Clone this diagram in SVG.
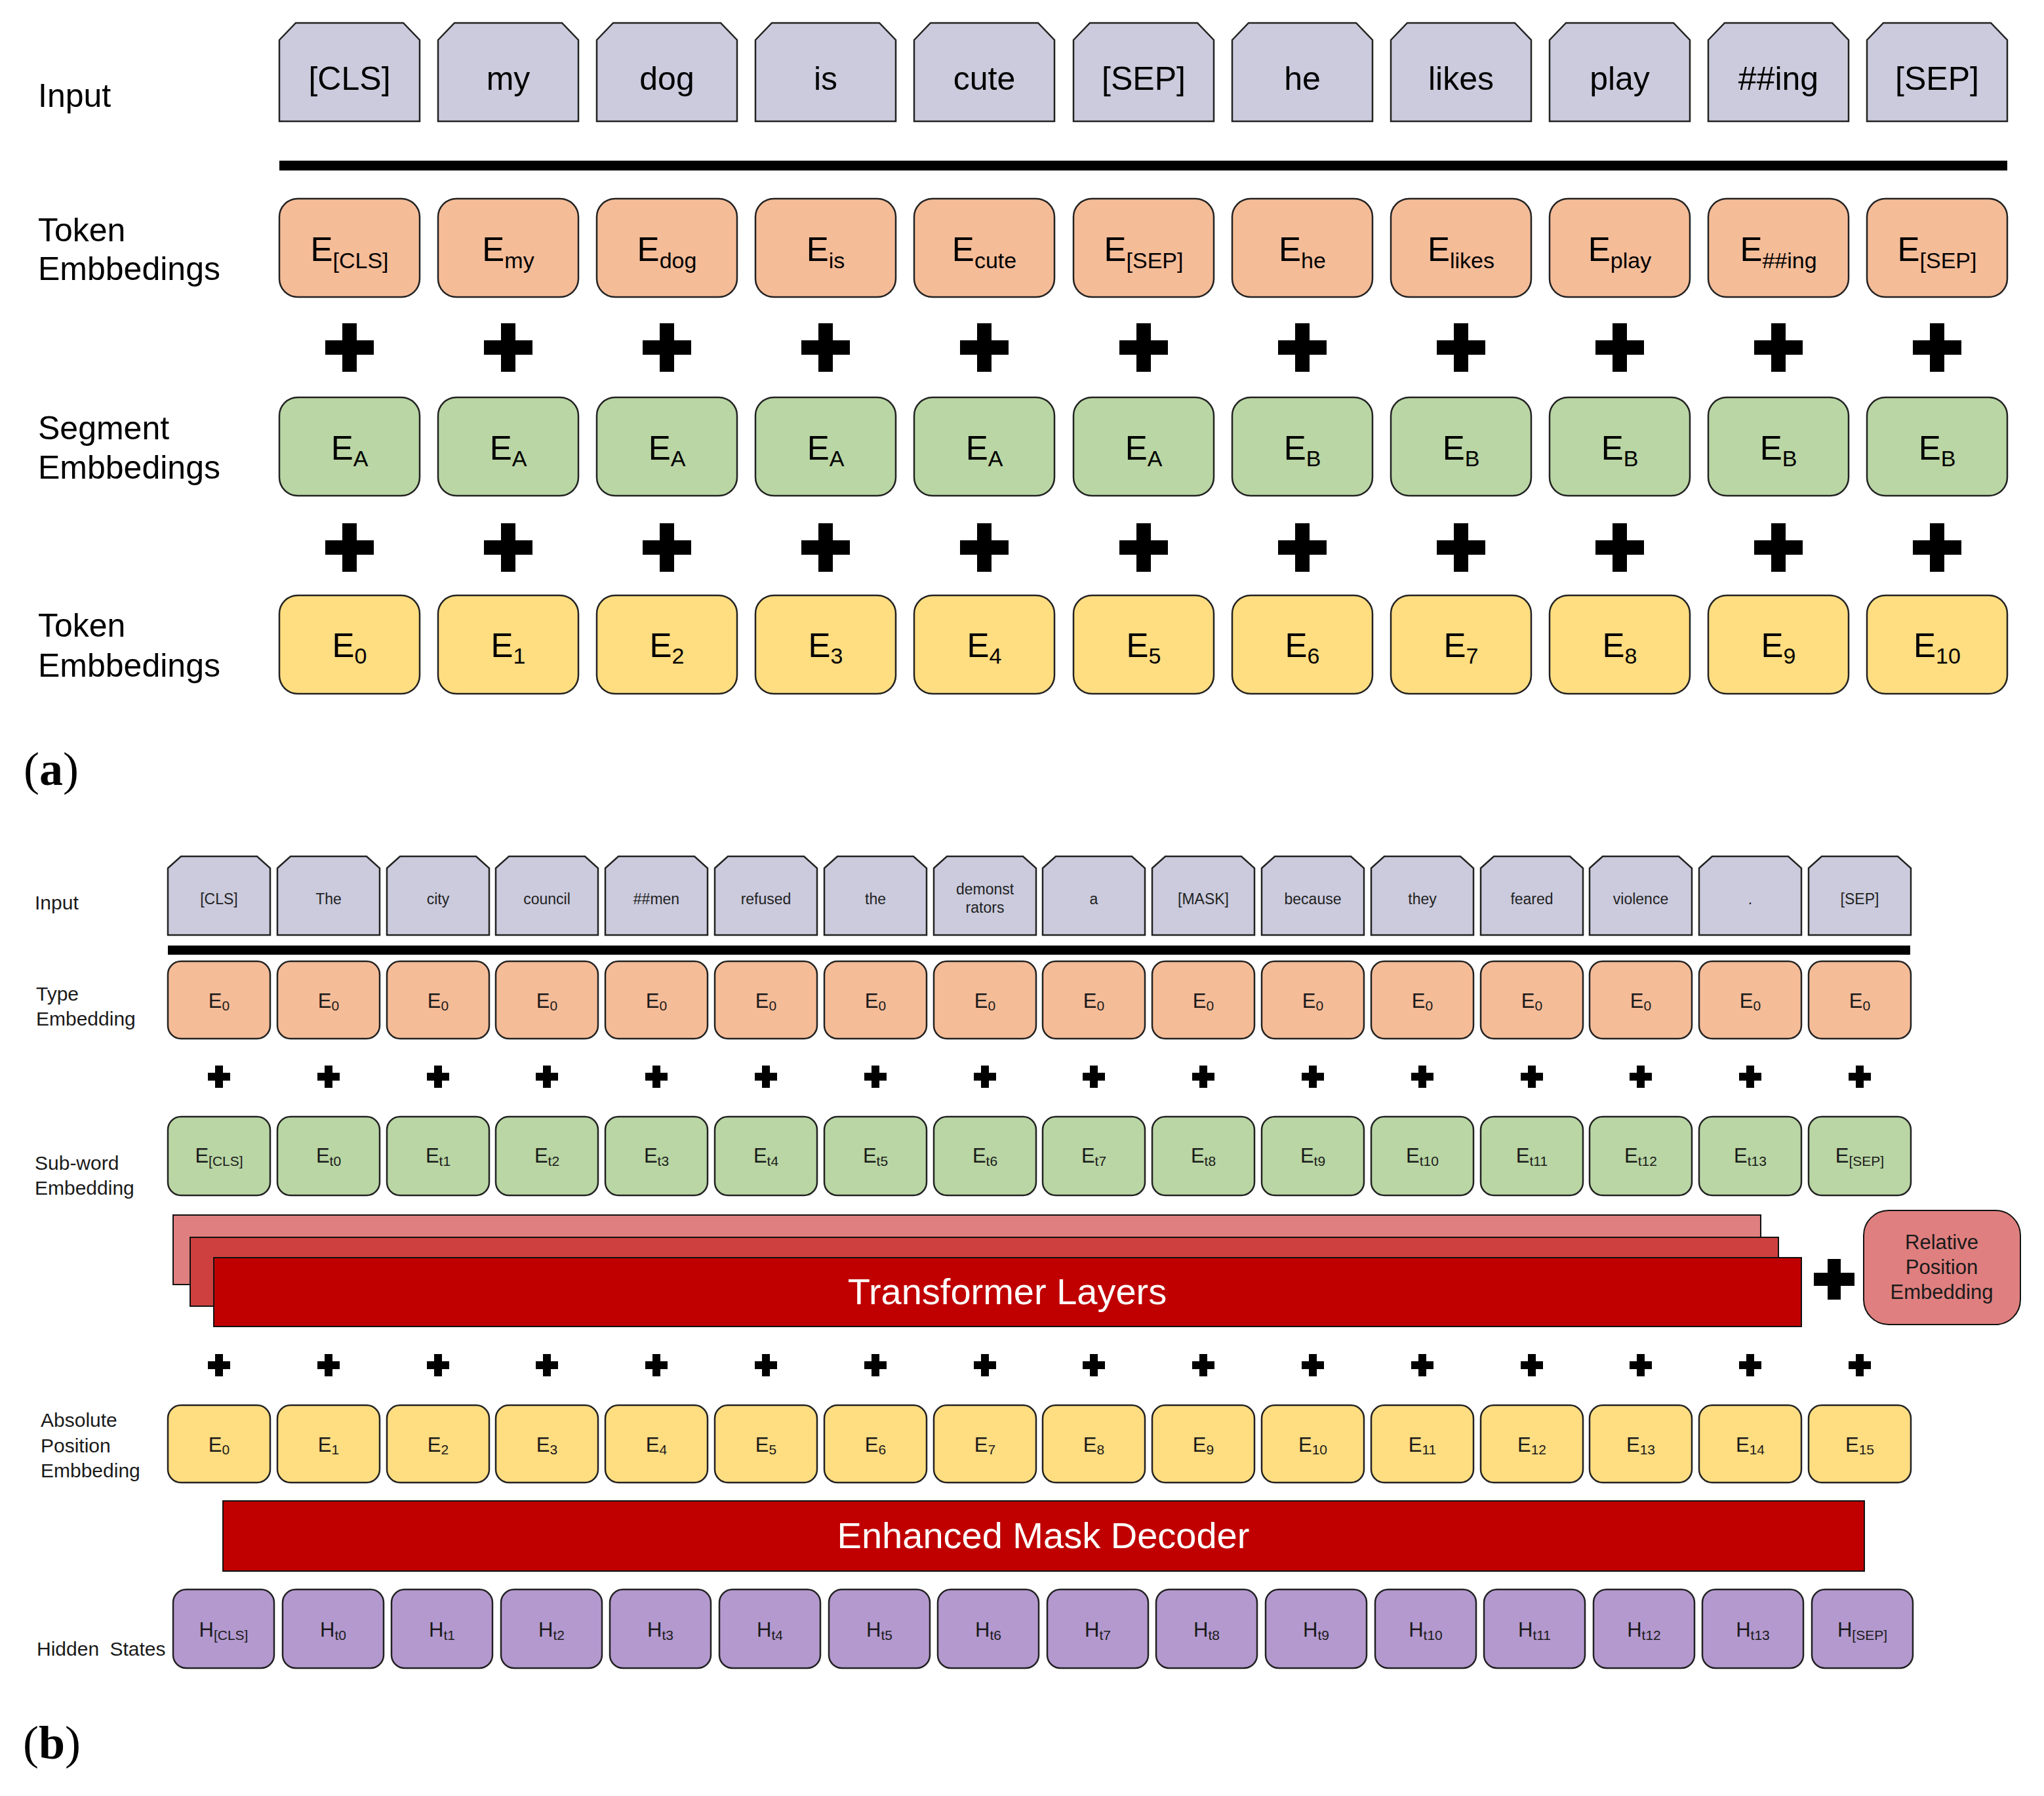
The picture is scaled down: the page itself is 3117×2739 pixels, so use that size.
<svg xmlns="http://www.w3.org/2000/svg" xmlns:xlink="http://www.w3.org/1999/xlink" width="3117" height="2739" viewBox="0 0 3117 2739">
<style>
text{font-family:"Liberation Sans",Arial,sans-serif;fill:#000}
.la{font-size:50px}
.lb{font-size:30px;fill:#1a1a1a}
.ta{font-size:50px;text-anchor:middle}
.ea{font-size:51px;text-anchor:middle}
.sa{font-size:34px}
.tb{font-size:23px;text-anchor:middle;fill:#222}
.eb{font-size:31px;text-anchor:middle;fill:#1a1a1a}
.sb{font-size:21px}
.big{font-size:56px;fill:#fff;text-anchor:middle}
.rpe{font-size:31px;text-anchor:middle;fill:#1a1a1a}
.cap{font-family:"Liberation Serif","Times New Roman",serif;font-size:72px}
.in{fill:#CBCBDD;stroke:#222;stroke-width:2.5}
.tok{fill:#F5BC98;stroke:#222;stroke-width:2.5}
.seg{fill:#B9D6A4;stroke:#222;stroke-width:2.5}
.pos{fill:#FFDD81;stroke:#222;stroke-width:2.5}
.hid{fill:#B499CF;stroke:#222;stroke-width:2.5}
.red1{fill:#DF7F7F;stroke:#111;stroke-width:2}
.red2{fill:#CE4040;stroke:#111;stroke-width:2}
.red3{fill:#C00000;stroke:#111;stroke-width:2}
</style>
<defs>
<path id="inA" d="M0,26 L25,0 L189,0 L214,26 L214,150 L0,150 Z"/>
<path id="inB" d="M0,18 L20,0 L136,0 L156,18 L156,120 L0,120 Z"/>
<path id="plA" d="M-11,-37 h22 v26 h26 v22 h-26 v26 h-22 v-26 h-26 v-22 h26 z" fill="#000"/>
<path id="plB" d="M-6,-17 h12 v11 h11 v12 h-11 v11 h-12 v-11 h-11 v-12 h11 z" fill="#000"/>
<path id="plC" d="M-10,-31 h20 v21 h21 v20 h-21 v21 h-20 v-21 h-21 v-20 h21 z" fill="#000"/>
</defs>
<rect width="3117" height="2739" fill="#fff"/>

<!-- ===== Part (a) labels ===== -->
<g id="a-labels">
<text class="la" x="58" y="163">Input</text>
<text class="la" x="58" y="368">Token</text>
<text class="la" x="58" y="427">Embbedings</text>
<text class="la" x="58" y="670">Segment</text>
<text class="la" x="58" y="730">Embbedings</text>
<text class="la" x="58" y="971">Token</text>
<text class="la" x="58" y="1032">Embbedings</text>
<text class="cap" x="36" y="1197">(<tspan font-weight="bold">a</tspan>)</text>
</g>

<!-- Input row (a) -->
<g id="a-in-0"><use href="#inA" class="in" x="426" y="35"/><text class="ta" x="533" y="137">[CLS]</text></g>
<g id="a-in-1"><use href="#inA" class="in" x="668" y="35"/><text class="ta" x="775" y="137">my</text></g>
<g id="a-in-2"><use href="#inA" class="in" x="910" y="35"/><text class="ta" x="1017" y="137">dog</text></g>
<g id="a-in-3"><use href="#inA" class="in" x="1152" y="35"/><text class="ta" x="1259" y="137">is</text></g>
<g id="a-in-4"><use href="#inA" class="in" x="1394" y="35"/><text class="ta" x="1501" y="137">cute</text></g>
<g id="a-in-5"><use href="#inA" class="in" x="1637" y="35"/><text class="ta" x="1744" y="137">[SEP]</text></g>
<g id="a-in-6"><use href="#inA" class="in" x="1879" y="35"/><text class="ta" x="1986" y="137">he</text></g>
<g id="a-in-7"><use href="#inA" class="in" x="2121" y="35"/><text class="ta" x="2228" y="137">likes</text></g>
<g id="a-in-8"><use href="#inA" class="in" x="2363" y="35"/><text class="ta" x="2470" y="137">play</text></g>
<g id="a-in-9"><use href="#inA" class="in" x="2605" y="35"/><text class="ta" x="2712" y="137">##ing</text></g>
<g id="a-in-10"><use href="#inA" class="in" x="2847" y="35"/><text class="ta" x="2954" y="137">[SEP]</text></g>

<!-- Token embeddings (a) -->
<g id="a-tok-0"><rect class="tok" x="426" y="303" width="214" height="150" rx="28"/><text class="ea" x="533" y="398">E<tspan class="sa" dy="11">[CLS]</tspan></text></g>
<g id="a-tok-1"><rect class="tok" x="668" y="303" width="214" height="150" rx="28"/><text class="ea" x="775" y="398">E<tspan class="sa" dy="11">my</tspan></text></g>
<g id="a-tok-2"><rect class="tok" x="910" y="303" width="214" height="150" rx="28"/><text class="ea" x="1017" y="398">E<tspan class="sa" dy="11">dog</tspan></text></g>
<g id="a-tok-3"><rect class="tok" x="1152" y="303" width="214" height="150" rx="28"/><text class="ea" x="1259" y="398">E<tspan class="sa" dy="11">is</tspan></text></g>
<g id="a-tok-4"><rect class="tok" x="1394" y="303" width="214" height="150" rx="28"/><text class="ea" x="1501" y="398">E<tspan class="sa" dy="11">cute</tspan></text></g>
<g id="a-tok-5"><rect class="tok" x="1637" y="303" width="214" height="150" rx="28"/><text class="ea" x="1744" y="398">E<tspan class="sa" dy="11">[SEP]</tspan></text></g>
<g id="a-tok-6"><rect class="tok" x="1879" y="303" width="214" height="150" rx="28"/><text class="ea" x="1986" y="398">E<tspan class="sa" dy="11">he</tspan></text></g>
<g id="a-tok-7"><rect class="tok" x="2121" y="303" width="214" height="150" rx="28"/><text class="ea" x="2228" y="398">E<tspan class="sa" dy="11">likes</tspan></text></g>
<g id="a-tok-8"><rect class="tok" x="2363" y="303" width="214" height="150" rx="28"/><text class="ea" x="2470" y="398">E<tspan class="sa" dy="11">play</tspan></text></g>
<g id="a-tok-9"><rect class="tok" x="2605" y="303" width="214" height="150" rx="28"/><text class="ea" x="2712" y="398">E<tspan class="sa" dy="11">##ing</tspan></text></g>
<g id="a-tok-10"><rect class="tok" x="2847" y="303" width="214" height="150" rx="28"/><text class="ea" x="2954" y="398">E<tspan class="sa" dy="11">[SEP]</tspan></text></g>

<!-- Segment embeddings (a) -->
<g id="a-seg-0"><rect class="seg" x="426" y="606" width="214" height="150" rx="28"/><text class="ea" x="533" y="701">E<tspan class="sa" dy="10">A</tspan></text></g>
<g id="a-seg-1"><rect class="seg" x="668" y="606" width="214" height="150" rx="28"/><text class="ea" x="775" y="701">E<tspan class="sa" dy="10">A</tspan></text></g>
<g id="a-seg-2"><rect class="seg" x="910" y="606" width="214" height="150" rx="28"/><text class="ea" x="1017" y="701">E<tspan class="sa" dy="10">A</tspan></text></g>
<g id="a-seg-3"><rect class="seg" x="1152" y="606" width="214" height="150" rx="28"/><text class="ea" x="1259" y="701">E<tspan class="sa" dy="10">A</tspan></text></g>
<g id="a-seg-4"><rect class="seg" x="1394" y="606" width="214" height="150" rx="28"/><text class="ea" x="1501" y="701">E<tspan class="sa" dy="10">A</tspan></text></g>
<g id="a-seg-5"><rect class="seg" x="1637" y="606" width="214" height="150" rx="28"/><text class="ea" x="1744" y="701">E<tspan class="sa" dy="10">A</tspan></text></g>
<g id="a-seg-6"><rect class="seg" x="1879" y="606" width="214" height="150" rx="28"/><text class="ea" x="1986" y="701">E<tspan class="sa" dy="10">B</tspan></text></g>
<g id="a-seg-7"><rect class="seg" x="2121" y="606" width="214" height="150" rx="28"/><text class="ea" x="2228" y="701">E<tspan class="sa" dy="10">B</tspan></text></g>
<g id="a-seg-8"><rect class="seg" x="2363" y="606" width="214" height="150" rx="28"/><text class="ea" x="2470" y="701">E<tspan class="sa" dy="10">B</tspan></text></g>
<g id="a-seg-9"><rect class="seg" x="2605" y="606" width="214" height="150" rx="28"/><text class="ea" x="2712" y="701">E<tspan class="sa" dy="10">B</tspan></text></g>
<g id="a-seg-10"><rect class="seg" x="2847" y="606" width="214" height="150" rx="28"/><text class="ea" x="2954" y="701">E<tspan class="sa" dy="10">B</tspan></text></g>

<!-- Position embeddings (a) -->
<g id="a-pos-0"><rect class="pos" x="426" y="908" width="214" height="150" rx="28"/><text class="ea" x="533" y="1002">E<tspan class="sa" dy="10">0</tspan></text></g>
<g id="a-pos-1"><rect class="pos" x="668" y="908" width="214" height="150" rx="28"/><text class="ea" x="775" y="1002">E<tspan class="sa" dy="10">1</tspan></text></g>
<g id="a-pos-2"><rect class="pos" x="910" y="908" width="214" height="150" rx="28"/><text class="ea" x="1017" y="1002">E<tspan class="sa" dy="10">2</tspan></text></g>
<g id="a-pos-3"><rect class="pos" x="1152" y="908" width="214" height="150" rx="28"/><text class="ea" x="1259" y="1002">E<tspan class="sa" dy="10">3</tspan></text></g>
<g id="a-pos-4"><rect class="pos" x="1394" y="908" width="214" height="150" rx="28"/><text class="ea" x="1501" y="1002">E<tspan class="sa" dy="10">4</tspan></text></g>
<g id="a-pos-5"><rect class="pos" x="1637" y="908" width="214" height="150" rx="28"/><text class="ea" x="1744" y="1002">E<tspan class="sa" dy="10">5</tspan></text></g>
<g id="a-pos-6"><rect class="pos" x="1879" y="908" width="214" height="150" rx="28"/><text class="ea" x="1986" y="1002">E<tspan class="sa" dy="10">6</tspan></text></g>
<g id="a-pos-7"><rect class="pos" x="2121" y="908" width="214" height="150" rx="28"/><text class="ea" x="2228" y="1002">E<tspan class="sa" dy="10">7</tspan></text></g>
<g id="a-pos-8"><rect class="pos" x="2363" y="908" width="214" height="150" rx="28"/><text class="ea" x="2470" y="1002">E<tspan class="sa" dy="10">8</tspan></text></g>
<g id="a-pos-9"><rect class="pos" x="2605" y="908" width="214" height="150" rx="28"/><text class="ea" x="2712" y="1002">E<tspan class="sa" dy="10">9</tspan></text></g>
<g id="a-pos-10"><rect class="pos" x="2847" y="908" width="214" height="150" rx="28"/><text class="ea" x="2954" y="1002">E<tspan class="sa" dy="10">10</tspan></text></g>

<!-- ===== Part (b) labels ===== -->
<g id="b-labels">
<text class="lb" x="53" y="1387">Input</text>
<text class="lb" x="55" y="1526">Type</text>
<text class="lb" x="55" y="1564">Embedding</text>
<text class="lb" x="53" y="1784">Sub-word</text>
<text class="lb" x="53" y="1822">Embedding</text>
<text class="lb" x="62" y="2176">Absolute</text>
<text class="lb" x="62" y="2215">Position</text>
<text class="lb" x="62" y="2253">Embbeding</text>
<text class="lb" x="56" y="2525" word-spacing="8">Hidden States</text>
<text class="cap" x="35" y="2682">(<tspan font-weight="bold">b</tspan>)</text>
</g>

<!-- Input row (b) -->
<g id="b-in-0"><use href="#inB" class="in" x="256" y="1306"/><text class="tb" x="334" y="1379">[CLS]</text></g>
<g id="b-in-1"><use href="#inB" class="in" x="423" y="1306"/><text class="tb" x="501" y="1379">The</text></g>
<g id="b-in-2"><use href="#inB" class="in" x="590" y="1306"/><text class="tb" x="668" y="1379">city</text></g>
<g id="b-in-3"><use href="#inB" class="in" x="756" y="1306"/><text class="tb" x="834" y="1379">council</text></g>
<g id="b-in-4"><use href="#inB" class="in" x="923" y="1306"/><text class="tb" x="1001" y="1379">##men</text></g>
<g id="b-in-5"><use href="#inB" class="in" x="1090" y="1306"/><text class="tb" x="1168" y="1379">refused</text></g>
<g id="b-in-6"><use href="#inB" class="in" x="1257" y="1306"/><text class="tb" x="1335" y="1379">the</text></g>
<g id="b-in-7"><use href="#inB" class="in" x="1424" y="1306"/><text class="tb" x="1502" y="1364">demonst</text><text class="tb" x="1502" y="1392">rators</text></g>
<g id="b-in-8"><use href="#inB" class="in" x="1590" y="1306"/><text class="tb" x="1668" y="1379">a</text></g>
<g id="b-in-9"><use href="#inB" class="in" x="1757" y="1306"/><text class="tb" x="1835" y="1379">[MASK]</text></g>
<g id="b-in-10"><use href="#inB" class="in" x="1924" y="1306"/><text class="tb" x="2002" y="1379">because</text></g>
<g id="b-in-11"><use href="#inB" class="in" x="2091" y="1306"/><text class="tb" x="2169" y="1379">they</text></g>
<g id="b-in-12"><use href="#inB" class="in" x="2258" y="1306"/><text class="tb" x="2336" y="1379">feared</text></g>
<g id="b-in-13"><use href="#inB" class="in" x="2424" y="1306"/><text class="tb" x="2502" y="1379">violence</text></g>
<g id="b-in-14"><use href="#inB" class="in" x="2591" y="1306"/><text class="tb" x="2669" y="1379">.</text></g>
<g id="b-in-15"><use href="#inB" class="in" x="2758" y="1306"/><text class="tb" x="2836" y="1379">[SEP]</text></g>

<!-- Type embedding (b) -->
<g id="b-type-0"><rect class="tok" x="256" y="1466" width="156" height="118" rx="20"/><text class="eb" x="334" y="1537">E<tspan class="sb" dy="4">0</tspan></text></g>
<g id="b-type-1"><rect class="tok" x="423" y="1466" width="156" height="118" rx="20"/><text class="eb" x="501" y="1537">E<tspan class="sb" dy="4">0</tspan></text></g>
<g id="b-type-2"><rect class="tok" x="590" y="1466" width="156" height="118" rx="20"/><text class="eb" x="668" y="1537">E<tspan class="sb" dy="4">0</tspan></text></g>
<g id="b-type-3"><rect class="tok" x="756" y="1466" width="156" height="118" rx="20"/><text class="eb" x="834" y="1537">E<tspan class="sb" dy="4">0</tspan></text></g>
<g id="b-type-4"><rect class="tok" x="923" y="1466" width="156" height="118" rx="20"/><text class="eb" x="1001" y="1537">E<tspan class="sb" dy="4">0</tspan></text></g>
<g id="b-type-5"><rect class="tok" x="1090" y="1466" width="156" height="118" rx="20"/><text class="eb" x="1168" y="1537">E<tspan class="sb" dy="4">0</tspan></text></g>
<g id="b-type-6"><rect class="tok" x="1257" y="1466" width="156" height="118" rx="20"/><text class="eb" x="1335" y="1537">E<tspan class="sb" dy="4">0</tspan></text></g>
<g id="b-type-7"><rect class="tok" x="1424" y="1466" width="156" height="118" rx="20"/><text class="eb" x="1502" y="1537">E<tspan class="sb" dy="4">0</tspan></text></g>
<g id="b-type-8"><rect class="tok" x="1590" y="1466" width="156" height="118" rx="20"/><text class="eb" x="1668" y="1537">E<tspan class="sb" dy="4">0</tspan></text></g>
<g id="b-type-9"><rect class="tok" x="1757" y="1466" width="156" height="118" rx="20"/><text class="eb" x="1835" y="1537">E<tspan class="sb" dy="4">0</tspan></text></g>
<g id="b-type-10"><rect class="tok" x="1924" y="1466" width="156" height="118" rx="20"/><text class="eb" x="2002" y="1537">E<tspan class="sb" dy="4">0</tspan></text></g>
<g id="b-type-11"><rect class="tok" x="2091" y="1466" width="156" height="118" rx="20"/><text class="eb" x="2169" y="1537">E<tspan class="sb" dy="4">0</tspan></text></g>
<g id="b-type-12"><rect class="tok" x="2258" y="1466" width="156" height="118" rx="20"/><text class="eb" x="2336" y="1537">E<tspan class="sb" dy="4">0</tspan></text></g>
<g id="b-type-13"><rect class="tok" x="2424" y="1466" width="156" height="118" rx="20"/><text class="eb" x="2502" y="1537">E<tspan class="sb" dy="4">0</tspan></text></g>
<g id="b-type-14"><rect class="tok" x="2591" y="1466" width="156" height="118" rx="20"/><text class="eb" x="2669" y="1537">E<tspan class="sb" dy="4">0</tspan></text></g>
<g id="b-type-15"><rect class="tok" x="2758" y="1466" width="156" height="118" rx="20"/><text class="eb" x="2836" y="1537">E<tspan class="sb" dy="4">0</tspan></text></g>

<!-- Sub-word embedding (b) -->
<g id="b-sub-0"><rect class="seg" x="256" y="1703" width="156" height="120" rx="20"/><text class="eb" x="334" y="1773">E<tspan class="sb" dy="5">[CLS]</tspan></text></g>
<g id="b-sub-1"><rect class="seg" x="423" y="1703" width="156" height="120" rx="20"/><text class="eb" x="501" y="1773">E<tspan class="sb" dy="5">t0</tspan></text></g>
<g id="b-sub-2"><rect class="seg" x="590" y="1703" width="156" height="120" rx="20"/><text class="eb" x="668" y="1773">E<tspan class="sb" dy="5">t1</tspan></text></g>
<g id="b-sub-3"><rect class="seg" x="756" y="1703" width="156" height="120" rx="20"/><text class="eb" x="834" y="1773">E<tspan class="sb" dy="5">t2</tspan></text></g>
<g id="b-sub-4"><rect class="seg" x="923" y="1703" width="156" height="120" rx="20"/><text class="eb" x="1001" y="1773">E<tspan class="sb" dy="5">t3</tspan></text></g>
<g id="b-sub-5"><rect class="seg" x="1090" y="1703" width="156" height="120" rx="20"/><text class="eb" x="1168" y="1773">E<tspan class="sb" dy="5">t4</tspan></text></g>
<g id="b-sub-6"><rect class="seg" x="1257" y="1703" width="156" height="120" rx="20"/><text class="eb" x="1335" y="1773">E<tspan class="sb" dy="5">t5</tspan></text></g>
<g id="b-sub-7"><rect class="seg" x="1424" y="1703" width="156" height="120" rx="20"/><text class="eb" x="1502" y="1773">E<tspan class="sb" dy="5">t6</tspan></text></g>
<g id="b-sub-8"><rect class="seg" x="1590" y="1703" width="156" height="120" rx="20"/><text class="eb" x="1668" y="1773">E<tspan class="sb" dy="5">t7</tspan></text></g>
<g id="b-sub-9"><rect class="seg" x="1757" y="1703" width="156" height="120" rx="20"/><text class="eb" x="1835" y="1773">E<tspan class="sb" dy="5">t8</tspan></text></g>
<g id="b-sub-10"><rect class="seg" x="1924" y="1703" width="156" height="120" rx="20"/><text class="eb" x="2002" y="1773">E<tspan class="sb" dy="5">t9</tspan></text></g>
<g id="b-sub-11"><rect class="seg" x="2091" y="1703" width="156" height="120" rx="20"/><text class="eb" x="2169" y="1773">E<tspan class="sb" dy="5">t10</tspan></text></g>
<g id="b-sub-12"><rect class="seg" x="2258" y="1703" width="156" height="120" rx="20"/><text class="eb" x="2336" y="1773">E<tspan class="sb" dy="5">t11</tspan></text></g>
<g id="b-sub-13"><rect class="seg" x="2424" y="1703" width="156" height="120" rx="20"/><text class="eb" x="2502" y="1773">E<tspan class="sb" dy="5">t12</tspan></text></g>
<g id="b-sub-14"><rect class="seg" x="2591" y="1703" width="156" height="120" rx="20"/><text class="eb" x="2669" y="1773">E<tspan class="sb" dy="5">t13</tspan></text></g>
<g id="b-sub-15"><rect class="seg" x="2758" y="1703" width="156" height="120" rx="20"/><text class="eb" x="2836" y="1773">E<tspan class="sb" dy="5">[SEP]</tspan></text></g>

<!-- Transformer layers -->
<g id="b-transformer">
<rect class="red1" x="264" y="1853" width="2421" height="106"/>
<rect class="red2" x="290" y="1887" width="2422" height="105"/>
<rect class="red3" x="326" y="1918" width="2421" height="105"/>
<text class="big" x="1536" y="1989">Transformer Layers</text>
</g>

<!-- Relative position embedding -->
<g id="b-rpe">
<rect class="red1" x="2842" y="1846" width="239" height="174" rx="38"/>
<text class="rpe" x="2961" y="1905">Relative</text>
<text class="rpe" x="2961" y="1943">Position</text>
<text class="rpe" x="2961" y="1981">Embedding</text>
</g>

<!-- Absolute position embedding (b) -->
<g id="b-pos-0"><rect class="pos" x="256" y="2143" width="156" height="118" rx="20"/><text class="eb" x="334" y="2214">E<tspan class="sb" dy="4">0</tspan></text></g>
<g id="b-pos-1"><rect class="pos" x="423" y="2143" width="156" height="118" rx="20"/><text class="eb" x="501" y="2214">E<tspan class="sb" dy="4">1</tspan></text></g>
<g id="b-pos-2"><rect class="pos" x="590" y="2143" width="156" height="118" rx="20"/><text class="eb" x="668" y="2214">E<tspan class="sb" dy="4">2</tspan></text></g>
<g id="b-pos-3"><rect class="pos" x="756" y="2143" width="156" height="118" rx="20"/><text class="eb" x="834" y="2214">E<tspan class="sb" dy="4">3</tspan></text></g>
<g id="b-pos-4"><rect class="pos" x="923" y="2143" width="156" height="118" rx="20"/><text class="eb" x="1001" y="2214">E<tspan class="sb" dy="4">4</tspan></text></g>
<g id="b-pos-5"><rect class="pos" x="1090" y="2143" width="156" height="118" rx="20"/><text class="eb" x="1168" y="2214">E<tspan class="sb" dy="4">5</tspan></text></g>
<g id="b-pos-6"><rect class="pos" x="1257" y="2143" width="156" height="118" rx="20"/><text class="eb" x="1335" y="2214">E<tspan class="sb" dy="4">6</tspan></text></g>
<g id="b-pos-7"><rect class="pos" x="1424" y="2143" width="156" height="118" rx="20"/><text class="eb" x="1502" y="2214">E<tspan class="sb" dy="4">7</tspan></text></g>
<g id="b-pos-8"><rect class="pos" x="1590" y="2143" width="156" height="118" rx="20"/><text class="eb" x="1668" y="2214">E<tspan class="sb" dy="4">8</tspan></text></g>
<g id="b-pos-9"><rect class="pos" x="1757" y="2143" width="156" height="118" rx="20"/><text class="eb" x="1835" y="2214">E<tspan class="sb" dy="4">9</tspan></text></g>
<g id="b-pos-10"><rect class="pos" x="1924" y="2143" width="156" height="118" rx="20"/><text class="eb" x="2002" y="2214">E<tspan class="sb" dy="4">10</tspan></text></g>
<g id="b-pos-11"><rect class="pos" x="2091" y="2143" width="156" height="118" rx="20"/><text class="eb" x="2169" y="2214">E<tspan class="sb" dy="4">11</tspan></text></g>
<g id="b-pos-12"><rect class="pos" x="2258" y="2143" width="156" height="118" rx="20"/><text class="eb" x="2336" y="2214">E<tspan class="sb" dy="4">12</tspan></text></g>
<g id="b-pos-13"><rect class="pos" x="2424" y="2143" width="156" height="118" rx="20"/><text class="eb" x="2502" y="2214">E<tspan class="sb" dy="4">13</tspan></text></g>
<g id="b-pos-14"><rect class="pos" x="2591" y="2143" width="156" height="118" rx="20"/><text class="eb" x="2669" y="2214">E<tspan class="sb" dy="4">14</tspan></text></g>
<g id="b-pos-15"><rect class="pos" x="2758" y="2143" width="156" height="118" rx="20"/><text class="eb" x="2836" y="2214">E<tspan class="sb" dy="4">15</tspan></text></g>

<!-- Enhanced mask decoder -->
<g id="b-decoder">
<rect class="red3" x="340" y="2289" width="2503" height="107"/>
<text class="big" x="1591" y="2361">Enhanced Mask Decoder</text>
</g>

<!-- Hidden states (b) -->
<g id="b-hid-0"><rect class="hid" x="264" y="2424" width="154" height="120" rx="20"/><text class="eb" x="341" y="2496">H<tspan class="sb" dy="5">[CLS]</tspan></text></g>
<g id="b-hid-1"><rect class="hid" x="431" y="2424" width="154" height="120" rx="20"/><text class="eb" x="508" y="2496">H<tspan class="sb" dy="5">t0</tspan></text></g>
<g id="b-hid-2"><rect class="hid" x="597" y="2424" width="154" height="120" rx="20"/><text class="eb" x="674" y="2496">H<tspan class="sb" dy="5">t1</tspan></text></g>
<g id="b-hid-3"><rect class="hid" x="764" y="2424" width="154" height="120" rx="20"/><text class="eb" x="841" y="2496">H<tspan class="sb" dy="5">t2</tspan></text></g>
<g id="b-hid-4"><rect class="hid" x="930" y="2424" width="154" height="120" rx="20"/><text class="eb" x="1007" y="2496">H<tspan class="sb" dy="5">t3</tspan></text></g>
<g id="b-hid-5"><rect class="hid" x="1097" y="2424" width="154" height="120" rx="20"/><text class="eb" x="1174" y="2496">H<tspan class="sb" dy="5">t4</tspan></text></g>
<g id="b-hid-6"><rect class="hid" x="1264" y="2424" width="154" height="120" rx="20"/><text class="eb" x="1341" y="2496">H<tspan class="sb" dy="5">t5</tspan></text></g>
<g id="b-hid-7"><rect class="hid" x="1430" y="2424" width="154" height="120" rx="20"/><text class="eb" x="1507" y="2496">H<tspan class="sb" dy="5">t6</tspan></text></g>
<g id="b-hid-8"><rect class="hid" x="1597" y="2424" width="154" height="120" rx="20"/><text class="eb" x="1674" y="2496">H<tspan class="sb" dy="5">t7</tspan></text></g>
<g id="b-hid-9"><rect class="hid" x="1763" y="2424" width="154" height="120" rx="20"/><text class="eb" x="1840" y="2496">H<tspan class="sb" dy="5">t8</tspan></text></g>
<g id="b-hid-10"><rect class="hid" x="1930" y="2424" width="154" height="120" rx="20"/><text class="eb" x="2007" y="2496">H<tspan class="sb" dy="5">t9</tspan></text></g>
<g id="b-hid-11"><rect class="hid" x="2097" y="2424" width="154" height="120" rx="20"/><text class="eb" x="2174" y="2496">H<tspan class="sb" dy="5">t10</tspan></text></g>
<g id="b-hid-12"><rect class="hid" x="2263" y="2424" width="154" height="120" rx="20"/><text class="eb" x="2340" y="2496">H<tspan class="sb" dy="5">t11</tspan></text></g>
<g id="b-hid-13"><rect class="hid" x="2430" y="2424" width="154" height="120" rx="20"/><text class="eb" x="2507" y="2496">H<tspan class="sb" dy="5">t12</tspan></text></g>
<g id="b-hid-14"><rect class="hid" x="2596" y="2424" width="154" height="120" rx="20"/><text class="eb" x="2673" y="2496">H<tspan class="sb" dy="5">t13</tspan></text></g>
<g id="b-hid-15"><rect class="hid" x="2763" y="2424" width="154" height="120" rx="20"/><text class="eb" x="2840" y="2496">H<tspan class="sb" dy="5">[SEP]</tspan></text></g>

<!-- Connectors: separator bars and plus operators -->
<g id="connectors">
<rect x="426" y="245" width="2635" height="15" fill="#000"/>
<rect x="256" y="1442" width="2657" height="14" fill="#000"/>
<use href="#plA" x="533" y="530"/><use href="#plA" x="775" y="530"/><use href="#plA" x="1017" y="530"/><use href="#plA" x="1259" y="530"/><use href="#plA" x="1501" y="530"/><use href="#plA" x="1744" y="530"/><use href="#plA" x="1986" y="530"/><use href="#plA" x="2228" y="530"/><use href="#plA" x="2470" y="530"/><use href="#plA" x="2712" y="530"/><use href="#plA" x="2954" y="530"/>
<use href="#plA" x="533" y="835"/><use href="#plA" x="775" y="835"/><use href="#plA" x="1017" y="835"/><use href="#plA" x="1259" y="835"/><use href="#plA" x="1501" y="835"/><use href="#plA" x="1744" y="835"/><use href="#plA" x="1986" y="835"/><use href="#plA" x="2228" y="835"/><use href="#plA" x="2470" y="835"/><use href="#plA" x="2712" y="835"/><use href="#plA" x="2954" y="835"/>
<use href="#plB" x="334" y="1642"/><use href="#plB" x="501" y="1642"/><use href="#plB" x="668" y="1642"/><use href="#plB" x="834" y="1642"/><use href="#plB" x="1001" y="1642"/><use href="#plB" x="1168" y="1642"/><use href="#plB" x="1335" y="1642"/><use href="#plB" x="1502" y="1642"/><use href="#plB" x="1668" y="1642"/><use href="#plB" x="1835" y="1642"/><use href="#plB" x="2002" y="1642"/><use href="#plB" x="2169" y="1642"/><use href="#plB" x="2336" y="1642"/><use href="#plB" x="2502" y="1642"/><use href="#plB" x="2669" y="1642"/><use href="#plB" x="2836" y="1642"/>
<use href="#plB" x="334" y="2082"/><use href="#plB" x="501" y="2082"/><use href="#plB" x="668" y="2082"/><use href="#plB" x="834" y="2082"/><use href="#plB" x="1001" y="2082"/><use href="#plB" x="1168" y="2082"/><use href="#plB" x="1335" y="2082"/><use href="#plB" x="1502" y="2082"/><use href="#plB" x="1668" y="2082"/><use href="#plB" x="1835" y="2082"/><use href="#plB" x="2002" y="2082"/><use href="#plB" x="2169" y="2082"/><use href="#plB" x="2336" y="2082"/><use href="#plB" x="2502" y="2082"/><use href="#plB" x="2669" y="2082"/><use href="#plB" x="2836" y="2082"/>
<use href="#plC" x="2797" y="1951"/>
</g>
</svg>
